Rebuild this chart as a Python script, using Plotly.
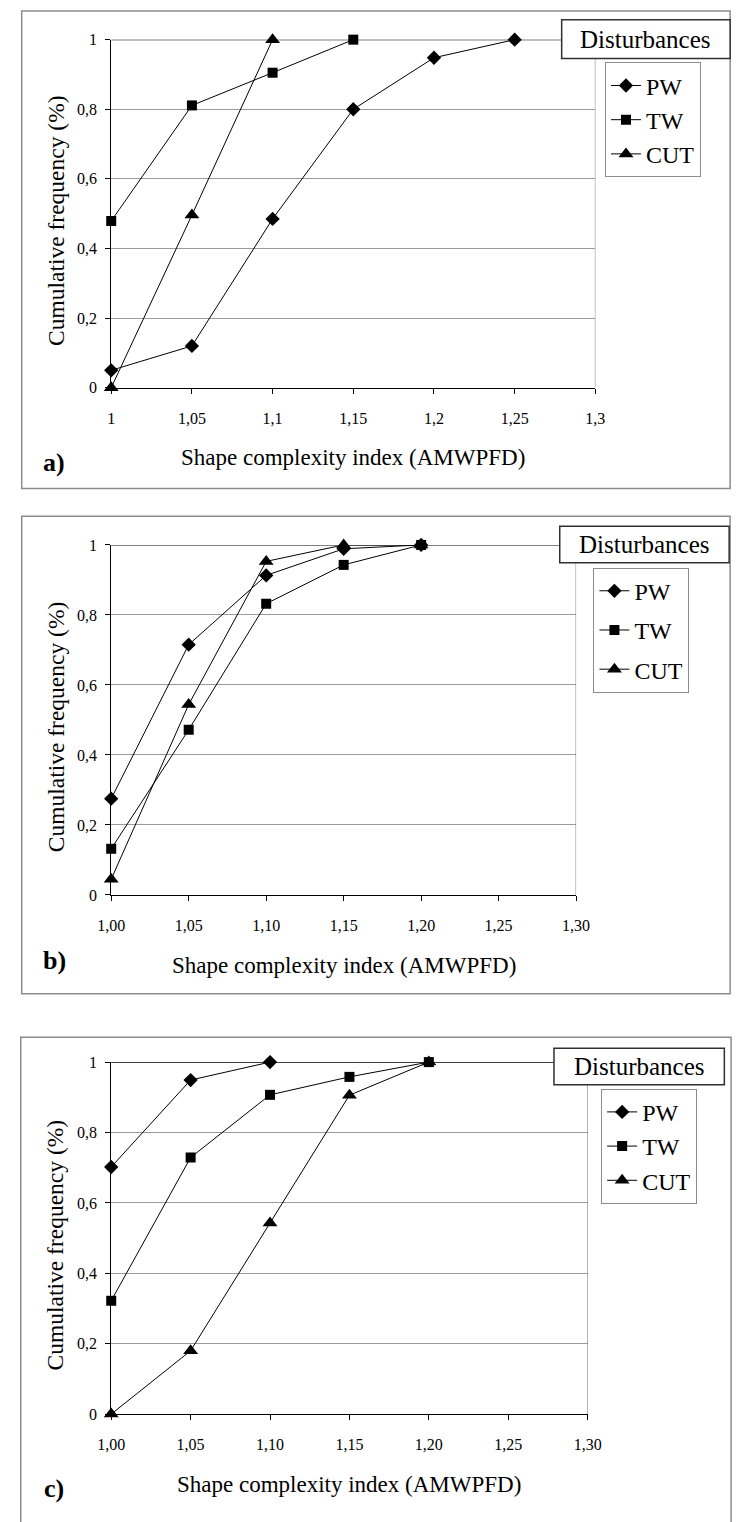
import plotly.graph_objects as go

# ---- data -------------------------------------------------------------
x_a = [1.00, 1.05, 1.10, 1.15, 1.20, 1.25]
a_pw = [0.05, 0.12, 0.485, 0.80, 0.948, 1.0]
a_tw = [0.479, 0.811, 0.905, 1.0]
a_cut = [0.0, 0.496, 1.0]

x_bc = [1.00, 1.05, 1.10, 1.15, 1.20]
b_pw = [0.275, 0.715, 0.913, 0.989, 1.0]
b_tw = [0.132, 0.472, 0.832, 0.943, 1.0]
b_cut = [0.045, 0.544, 0.953, 1.0, 1.0]

c_pw = [0.702, 0.949, 1.0]
c_tw = [0.322, 0.729, 0.907, 0.958, 1.0]
c_cut = [0.0, 0.18, 0.543, 0.906, 1.0]

x_tickvals = [1.00, 1.05, 1.10, 1.15, 1.20, 1.25, 1.30]
x_ticktext_a = ["1", "1,05", "1,1", "1,15", "1,2", "1,25", "1,3"]
x_ticktext_bc = ["1,00", "1,05", "1,10", "1,15", "1,20", "1,25", "1,30"]
y_tickvals = [0, 0.2, 0.4, 0.6, 0.8, 1.0]
y_ticktext = ["0", "0,2", "0,4", "0,6", "0,8", "1"]

series_names = ["PW", "TW", "CUT"]
series_symbols = ["diamond", "square", "triangle-up"]
series_sizes = [11, 10, 13]

W, H = 747, 1522
FONT = "Liberation Serif, Times New Roman, serif"


def fx(px):
    return px / W


def fy(py):
    return 1 - py / H


# panel geometry in pixels
panels = [
    dict(key="a", label="a)", xs=x_a, ys=[a_pw, a_tw, a_cut], ticks=x_ticktext_a,
         frame=(8, 3, 744, 486), plot=(101, 32, 604, 384),
         tbox=(569, 12, 744, 51), leg=(614, 55), leg_gap=0,
         xtitle_y=455, label_y=460, ytitle_x=43),
    dict(key="b", label="b)", xs=x_bc, ys=[b_pw, b_tw, b_cut], ticks=x_ticktext_bc,
         frame=(8, 514, 744, 997), plot=(101, 543, 584, 897),
         tbox=(567, 524, 743, 561), leg=(602, 566), leg_gap=5,
         xtitle_y=968, label_y=963, ytitle_x=43),
    dict(key="c", label="c)", xs=x_bc, ys=[c_pw, c_tw, c_cut], ticks=x_ticktext_bc,
         frame=(7, 1041, 745, 1540), plot=(101, 1066, 596, 1422),
         tbox=(561, 1052, 738, 1089), leg=(610, 1093), leg_gap=0,
         xtitle_y=1493, label_y=1497, ytitle_x=43),
]

fig = go.Figure()
shapes = []
annotations = []
layout_axes = {}

for i, p in enumerate(panels):
    n = "" if i == 0 else str(i + 1)
    xa, ya = "x" + n, "y" + n
    legend_name = "legend" + n
    x0, y0, x1, y1 = p["plot"]

    for k, (name, sym, size) in enumerate(zip(series_names, series_symbols, series_sizes)):
        yv = p["ys"][k]
        fig.add_trace(go.Scatter(
            x=p["xs"][:len(yv)], y=yv, name=name, mode="lines+markers",
            line=dict(color="black", width=1),
            marker=dict(symbol=sym, size=size, color="black"),
            xaxis=xa, yaxis=ya, legend=legend_name, cliponaxis=False,
            legendgroup=p["key"] + name,
        ))

    layout_axes["xaxis" + n] = dict(
        domain=[fx(x0), fx(x1)], range=[1.0, 1.3], anchor=ya,
        tickvals=x_tickvals, ticktext=p["ticks"],
        showline=True, linecolor="black", linewidth=1,
        ticks="outside", ticklen=5, tickcolor="black", ticklabelstandoff=11,
        showgrid=False, zeroline=False,
        tickfont=dict(family=FONT, size=16, color="black"),
    )
    layout_axes["yaxis" + n] = dict(
        domain=[fy(y1), fy(y0)], range=[0, 1], anchor=xa,
        tickvals=y_tickvals, ticktext=y_ticktext,
        showline=True, linecolor="black", linewidth=1,
        ticks="outside", ticklen=5, tickcolor="black", ticklabelstandoff=5,
        showgrid=True, gridcolor="#9a9a9a", gridwidth=1, zeroline=False,
        tickfont=dict(family=FONT, size=16, color="black"),
    )

    layout_axes[legend_name] = dict(
        x=fx(p["leg"][0]), y=fy(p["leg"][1]), xanchor="left", yanchor="top",
        xref="paper", yref="paper", tracegroupgap=p["leg_gap"],
        bgcolor="white", bordercolor="#8c8c8c", borderwidth=1,
        font=dict(family=FONT, size=24, color="black"),
    )

    # outer frame of the panel
    fx0, fy0, fx1, fy1 = p["frame"]
    shapes.append(dict(type="rect", xref="paper", yref="paper",
                       x0=fx(fx0), x1=fx(fx1), y0=fy(fy1), y1=fy(fy0),
                       line=dict(color="#8c8c8c", width=1.5), layer="below"))
    # plot-area border: right side grey, top black
    shapes.append(dict(type="line", xref=xa, yref=ya, x0=1.3, x1=1.3, y0=0, y1=1,
                       line=dict(color="#7a7a7a", width=1)))
    tx0, ty0, tx1, ty1 = p["tbox"]
    shapes.append(dict(type="line", xref="paper", yref=ya, x0=fx(x0), x1=fx(tx0), y0=1, y1=1,
                       line=dict(color="black", width=1.2)))
    # "Disturbances" title box
    shapes.append(dict(type="rect", xref="paper", yref="paper",
                       x0=fx(tx0), x1=fx(tx1), y0=fy(ty1), y1=fy(ty0),
                       line=dict(color="#303030", width=1.5), fillcolor="white"))
    annotations.append(dict(text="Disturbances", xref="paper", yref="paper",
                            x=fx((tx0 + tx1) / 2), y=fy((ty0 + ty1) / 2),
                            showarrow=False, xanchor="center", yanchor="middle",
                            font=dict(family=FONT, size=25, color="black")))
    # axis titles
    annotations.append(dict(text="Shape complexity index (AMWPFD)", xref="paper", yref="paper",
                            x=fx((x0 + x1) / 2), y=fy(p["xtitle_y"]),
                            showarrow=False, xanchor="center", yanchor="middle",
                            font=dict(family=FONT, size=23, color="black")))
    annotations.append(dict(text="Cumulative frequency (%)", xref="paper", yref="paper",
                            x=fx(p["ytitle_x"]), y=fy((y0 + y1) / 2 + 7), textangle=-90,
                            showarrow=False, xanchor="center", yanchor="middle",
                            font=dict(family=FONT, size=23.5, color="black")))
    # panel label
    annotations.append(dict(text="<b>" + p["label"] + "</b>", xref="paper", yref="paper",
                            x=fx(42), y=fy(p["label_y"]),
                            showarrow=False, xanchor="center", yanchor="middle",
                            font=dict(family=FONT, size=26, color="black")))

fig.update_layout(
    width=W, height=H, margin=dict(l=0, r=0, t=0, b=0),
    paper_bgcolor="white", plot_bgcolor="white",
    font=dict(family=FONT, color="black"),
    shapes=shapes, annotations=annotations,
    **layout_axes,
)

fig.write_html("out.html")
